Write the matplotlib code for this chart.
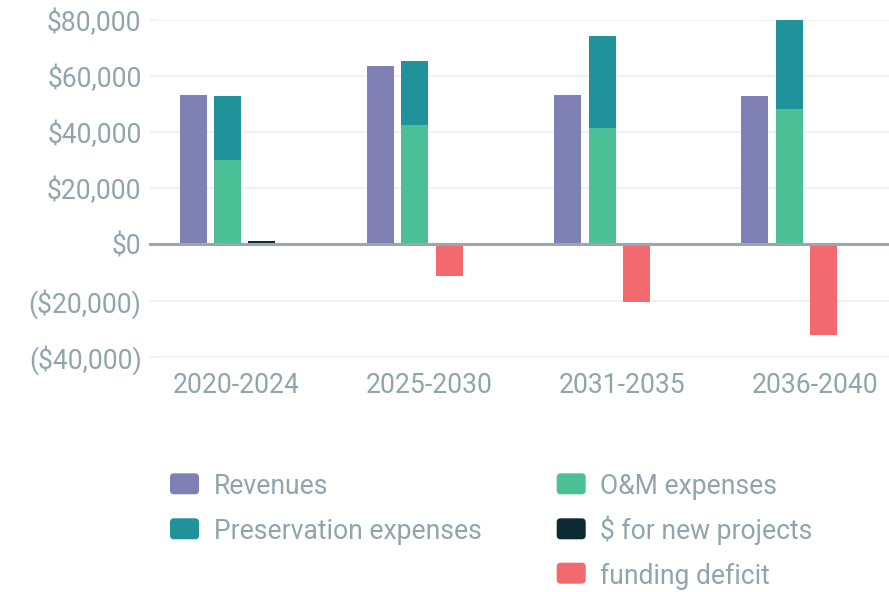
import matplotlib
matplotlib.use("Agg")
import matplotlib.pyplot as plt
from matplotlib.patches import FancyBboxPatch
from matplotlib.ticker import FuncFormatter
import numpy as np

plt.rcParams["font.family"] = ["Roboto", "DejaVu Sans"]

# ---- data ----
periods = ["2020-2024", "2025-2030", "2031-2035", "2036-2040"]
revenues = [53200, 63500, 53200, 52900]
om_expenses = [30000, 42500, 41400, 48200]
preservation_expenses = [22900, 22800, 32800, 31800]
new_projects = [1100, 0, 0, 0]
funding_deficit = [0, -11200, -20400, -32200]

colors = {
    "Revenues": "#7f80b4",
    "O&M expenses": "#4bc096",
    "Preservation expenses": "#20939a",
    "$ for new projects": "#0b2a33",
    "funding deficit": "#f2696e",
}
text_color = "#90a4ae"
grid_color = "#f1f1f1"
zero_color = "#9aa7b0"

W, H = 889, 592
fig = plt.figure(figsize=(W / 100, H / 100), dpi=100)

# plot area in pixels
ax_l, ax_r, ax_t, ax_b = 158, 889, 20, 356.6
ax = fig.add_axes([ax_l / W, 1 - ax_b / H, (ax_r - ax_l) / W, (ax_b - ax_t) / H])

x = np.arange(len(periods))
slot = 0.184
bar_w = 0.144

ax.bar(x - slot, revenues, width=bar_w, color=colors["Revenues"], zorder=3)
ax.bar(x, om_expenses, width=bar_w, color=colors["O&M expenses"], zorder=3)
ax.bar(x, preservation_expenses, width=bar_w, bottom=om_expenses,
       color=colors["Preservation expenses"], zorder=3)
ax.bar(x + slot, new_projects, width=bar_w, color=colors["$ for new projects"], zorder=3)
ax.bar(x + slot, funding_deficit, width=bar_w, color=colors["funding deficit"], zorder=3)

ax.set_ylim(-40000, 80000)
ax.set_yticks(np.arange(-40000, 80001, 20000))
ax.set_xlim(-0.371, 3.532)

def money(v, _pos):
    if v < 0:
        return "(${:,.0f})".format(-v)
    return "${:,.0f}".format(v)

ax.yaxis.set_major_formatter(FuncFormatter(money))

label_pos = 0.048 + np.arange(len(periods)) * 1.029
ax.set_xticks(label_pos)
ax.set_xticklabels(periods)

ax.grid(axis="y", color=grid_color, linewidth=1.5, zorder=0)
ax.grid(axis="x", visible=False)
for s in ax.spines.values():
    s.set_visible(False)

ax.tick_params(axis="y", length=5.8, width=1.5, color=grid_color, pad=6,
               labelsize=19.1, labelcolor=text_color)
ax.tick_params(axis="x", length=0, pad=11, labelsize=19.1, labelcolor=text_color)

# zero baseline, extended over the tick area
ax.axhline(0, xmin=-8 / (ax_r - ax_l), xmax=1, color=zero_color, linewidth=2.2,
           zorder=4, clip_on=False)

# ---- legend drawn in pixel space ----
lg = fig.add_axes([0, 0, 1, 1], facecolor="none")
lg.set_xlim(0, W)
lg.set_ylim(H, 0)
lg.axis("off")

legend_rows = [
    ("Revenues", 170, 473.3),
    ("Preservation expenses", 170, 518.3),
    ("O&M expenses", 556.7, 473.3),
    ("$ for new projects", 556.7, 518.3),
    ("funding deficit", 556.7, 562.7),
]
box_w, box_h = 29, 21
for name, bx, by in legend_rows:
    lg.add_patch(FancyBboxPatch((bx, by), box_w, box_h,
                                boxstyle="round,pad=0,rounding_size=4",
                                facecolor=colors[name], edgecolor="none"))
    lg.text(bx + 43.5, by + box_h, name, fontsize=19.1, color=text_color,
            va="baseline", ha="left")

fig.savefig("out.png", dpi=100)
